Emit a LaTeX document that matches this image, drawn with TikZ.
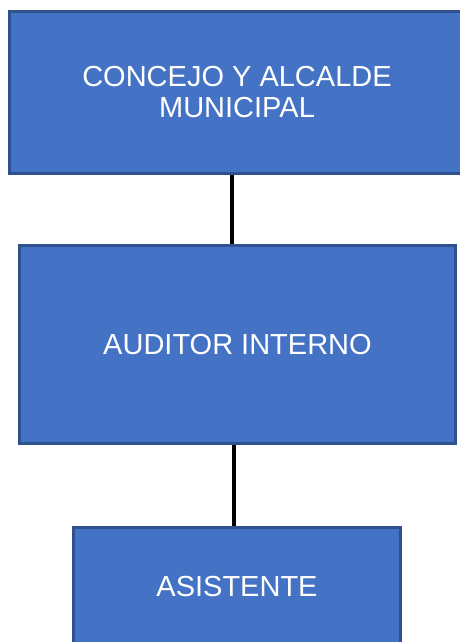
\documentclass[tikz,border=0pt]{standalone}
\usepackage{fontspec}
\setmainfont{Liberation Sans}
\definecolor{boxfill}{HTML}{4472C4}
\definecolor{boxedge}{HTML}{2F528F}
\tikzset{
  orgbox/.style={draw=boxedge, line width=3pt, fill=boxfill, text=white,
    align=center, inner sep=0pt, font=\fontsize{29}{31}\selectfont},
  link/.style={draw=black, line width=4pt}
}
\begin{document}
\begin{tikzpicture}[x=1pt,y=-1pt]
  \useasboundingbox (0,0) rectangle (460,642);
  \clip (0,0) rectangle (460,642);
  % organisational units
  \node[orgbox, minimum width=455pt, minimum height=161pt] (b1) at (237,92.5)
    {CONCEJO Y ALCALDE\\MUNICIPAL};
  \node[orgbox, minimum width=436pt, minimum height=198pt] (b2) at (237.5,344.5)
    {AUDITOR INTERNO};
  \node[orgbox, minimum width=327pt, minimum height=119pt] (b3) at (237,587)
    {ASISTENTE};
  % vertical connectors
  \coordinate (c1) at (232,0);
  \coordinate (c2) at (234,0);
  \draw[link] (b1.south -| c1) -- (b2.north -| c1);
  \draw[link] (b2.south -| c2) -- (b3.north -| c2);
\end{tikzpicture}
\end{document}
